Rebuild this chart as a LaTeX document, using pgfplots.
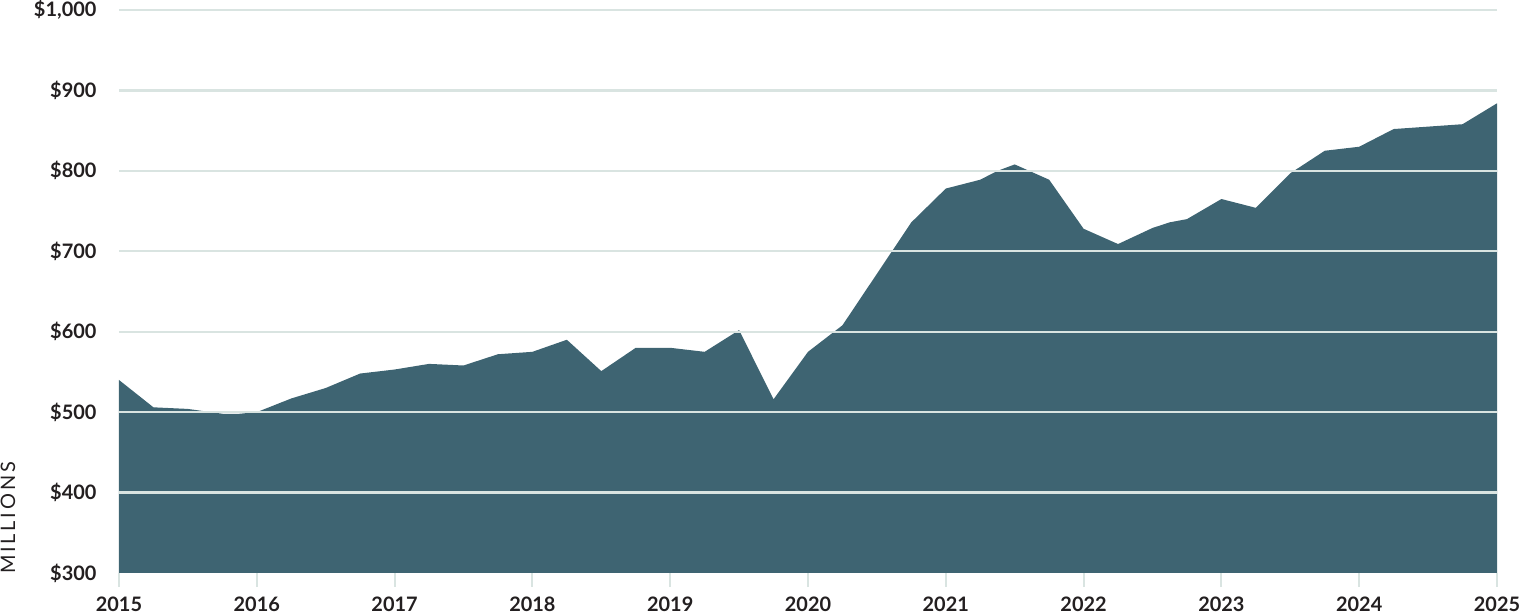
\documentclass[border=0pt]{standalone}
\usepackage{fontspec}
\setmainfont{Lato}
\newfontfamily\spacedfont{Lato}[LetterSpace=14]
\usepackage{pgfplots}
\pgfplotsset{compat=1.18}
\definecolor{areac}{HTML}{3E6472}
\definecolor{gridc}{HTML}{D9E4E1}
\definecolor{textc}{HTML}{231F20}
\begin{document}
\begin{tikzpicture}
\begin{axis}[
    scale only axis,
    width=689bp, height=281.5bp,
    xmin=2015, xmax=2025,
    ymin=300, ymax=1000,
    xtick={2015,2016,...,2025},
    xticklabels={2015,2016,2017,2018,2019,2020,2021,2022,2023,2024,2025},
    ytick={400,500,...,1000},
    extra y ticks={300},
    extra y tick style={grid=none},
    yticklabel={\$\pgfmathprintnumber{\tick}},
    /pgf/number format/.cd, 1000 sep={,}, assume math mode=true, fixed,
    /pgfplots/.cd,
    axis line style={draw=none},
    ymajorgrids,
    grid style={gridc, line width=1.1bp},
    axis on top,
    tick align=outside,
    xtick pos=bottom,
    ytick pos=left,
    major tick length=7bp,
    xtick style={gridc, line width=1bp},
    ytick style={draw=none},
    tick label style={font=\fontsize{10}{12}\selectfont\bfseries, text=textc},
    yticklabel style={anchor=east, xshift=-0.8bp},
    xticklabel style={yshift=-1.5bp},
]
\addplot[fill=areac, draw=none] coordinates {
(2015.00,540) (2015.25,506) (2015.50,504) (2015.625,501) (2015.75,498)
(2015.875,498) (2016.00,500) (2016.25,517) (2016.50,530) (2016.75,548)
(2017.00,553) (2017.25,560) (2017.50,558) (2017.75,572) (2018.00,575)
(2018.25,590) (2018.50,551) (2018.75,580) (2019.00,580) (2019.25,575)
(2019.50,602) (2019.75,516) (2020.00,575) (2020.25,608) (2020.50,672)
(2020.75,736) (2021.00,778) (2021.25,789) (2021.375,800) (2021.50,808)
(2021.75,789) (2022.00,728) (2022.25,709) (2022.50,729) (2022.625,736)
(2022.75,740) (2023.00,765) (2023.25,754) (2023.50,797) (2023.75,825)
(2024.00,830) (2024.25,852) (2024.50,855) (2024.75,858) (2025.00,884)
} \closedcycle;
\end{axis}
\node[rotate=90, anchor=center, text=textc,
      font=\spacedfont\fontsize{10}{12}\selectfont]
      at (-55.5bp,27.5bp) {MILLIONS};
\pgfresetboundingbox
\path[use as bounding box] (-59.5bp,-20.5bp) rectangle (700.5bp,286.5bp);
\end{tikzpicture}
\end{document}
